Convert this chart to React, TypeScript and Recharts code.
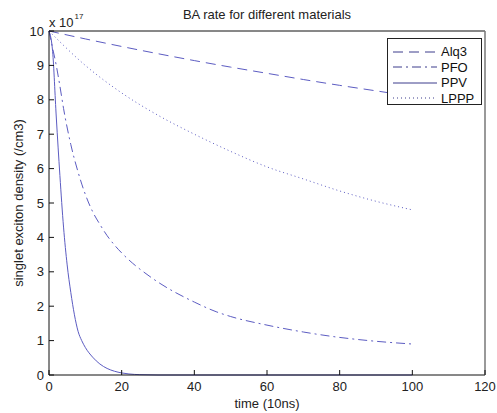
import React from 'react';
import { LineChart, Line, XAxis, YAxis, Legend } from 'recharts';

const xTicks = [0, 20, 40, 60, 80, 100, 120];
const yTicks = [0, 1, 2, 3, 4, 5, 6, 7, 8, 9, 10];

const seriesNames = ['Alq3', 'PFO', 'PPV', 'LPPP'];
const seriesDash = ['10 6', '9 4 2 4', '', '1 3'];

const alq3T = [0, 10, 20, 30, 40, 50, 60, 70, 80, 90, 100];
const alq3Y = [10, 9.77, 9.55, 9.34, 9.14, 8.95, 8.77, 8.59, 8.42, 8.26, 8.1];

const pfoT = [0, 1, 2, 3, 4, 6, 8, 10, 12, 14, 16, 18, 20, 23, 25, 30, 40, 46, 50, 60, 70, 78, 88, 100];
const pfoY = [10, 9.5, 9.0, 8.4, 7.75, 6.7, 5.9, 5.25, 4.75, 4.38, 4.05, 3.78, 3.55, 3.25, 3.08, 2.7, 2.12, 1.84, 1.7, 1.45, 1.25, 1.12, 1.0, 0.9];

const ppvT = [0, 1, 2, 3, 4, 5, 6, 7, 8, 9, 10, 12, 14, 16, 18, 20, 22, 25, 30, 40, 60, 80, 100];
const ppvY = [10, 9.4, 7.5, 5.8, 4.3, 3.2, 2.4, 1.75, 1.27, 1.0, 0.8, 0.52, 0.32, 0.19, 0.11, 0.06, 0.03, 0.01, 0, 0, 0, 0, 0];

const lpppT = [0, 10, 20, 30, 40, 50, 60, 70, 80, 90, 100];
const lpppY = [10, 9.0, 8.2, 7.55, 7.0, 6.5, 6.05, 5.7, 5.35, 5.05, 4.8];

const toPoints = (t: number[], y: number[]) => t.map((v, i) => ({ t: v, y: y[i] }));

const series = [
  toPoints(alq3T, alq3Y),
  toPoints(pfoT, pfoY),
  toPoints(ppvT, ppvY),
  toPoints(lpppT, lpppY),
];

const lineColor = '#5c5cc2';
const font = 'Arial, "Liberation Sans", Helvetica, sans-serif';
const TICK = 5;

// MATLAB-style inward tick marks, drawn next to the labels
const BottomTick = (props: any) => {
  const { x, y, payload } = props;
  return (
    <g>
      <line x1={x} y1={y - 12} x2={x} y2={y - 12 + TICK} stroke="#111" />
      <text x={x} y={y} dy="0.71em" textAnchor="middle" fontSize={13} fontFamily={font} fill="#222">
        {payload.value}
      </text>
    </g>
  );
};

const LeftTick = (props: any) => {
  const { x, y, payload } = props;
  return (
    <g>
      <line x1={x + 10 - TICK} y1={y} x2={x + 10} y2={y} stroke="#111" />
      <text x={x} y={y} dy="0.355em" textAnchor="end" fontSize={13} fontFamily={font} fill="#222">
        {payload.value}
      </text>
    </g>
  );
};

const TopTick = (props: any) => {
  const { x, y } = props;
  return <line x1={x} y1={y - TICK} x2={x} y2={y} stroke="#111" />;
};

const RightTick = (props: any) => {
  const { x, y } = props;
  return <line x1={x} y1={y} x2={x + TICK} y2={y} stroke="#111" />;
};

const renderLegend = () => (
  <div
    style={{
      border: '1px solid #222',
      background: '#fff',
      width: 95,
      height: 67,
      boxSizing: 'border-box',
      padding: '5px 0 0 5px',
      fontFamily: font,
      fontSize: 13,
      color: '#111',
      textAlign: 'left',
    }}
  >
    {seriesNames.map((name, i) => (
      <div key={name} style={{ display: 'flex', alignItems: 'center', height: 15.5 }}>
        <svg width={44} height={6}>
          <line x1={0} y1={3} x2={44} y2={3} stroke="#3c3c8c" strokeWidth={1} strokeDasharray={seriesDash[i] || undefined} />
        </svg>
        <span style={{ marginLeft: 4 }}>{name}</span>
      </div>
    ))}
  </div>
);

const App: React.FC = () => {
  return (
    <div style={{ position: 'absolute', left: 0, top: 0, width: 497, height: 413, background: '#fff' }}>
      <LineChart width={497} height={413} margin={{ top: 30, right: 11, left: 19, bottom: 8 }}>
        <XAxis
          dataKey="t"
          type="number"
          domain={[0, 120]}
          ticks={xTicks}
          interval={0}
          stroke="#111"
          tickLine={false}
          tickSize={-TICK}
          tickMargin={12}
          height={30}
          tick={<BottomTick />}
          label={{ value: 'time (10ns)', position: 'insideBottom', offset: -3, fill: '#222', fontSize: 13, fontFamily: font }}
        />
        <XAxis
          xAxisId="top"
          orientation="top"
          type="number"
          domain={[0, 120]}
          ticks={xTicks}
          interval={0}
          stroke="#111"
          tickLine={false}
          tickSize={-TICK}
          tickMargin={0}
          height={1}
          tick={<TopTick />}
        />
        <YAxis
          type="number"
          domain={[0, 10]}
          ticks={yTicks}
          interval={0}
          stroke="#111"
          tickLine={false}
          tickSize={-TICK}
          tickMargin={10}
          width={30}
          tick={<LeftTick />}
          label={{ value: 'singlet exciton density (/cm3)', angle: -90, position: 'insideLeft', offset: -1, fill: '#222', fontSize: 13, fontFamily: font, style: { textAnchor: 'middle' } }}
        />
        <YAxis
          yAxisId="right"
          orientation="right"
          type="number"
          domain={[0, 10]}
          ticks={yTicks}
          interval={0}
          stroke="#777"
          strokeWidth={1.5}
          tickLine={false}
          tickSize={-TICK}
          tickMargin={0}
          width={1}
          tick={<RightTick />}
        />
        <Legend layout="horizontal" verticalAlign="middle" align="center" content={renderLegend} wrapperStyle={{ top: 38, left: 387, width: 95 }} />
        {seriesNames.map((name, i) => (
          <Line
            key={name}
            name={name}
            data={series[i]}
            dataKey="y"
            type="monotone"
            stroke={lineColor}
            strokeWidth={1}
            strokeDasharray={seriesDash[i] || undefined}
            dot={false}
            isAnimationActive={false}
          />
        ))}
        <text x={267} y={19} textAnchor="middle" fontSize={13} fontFamily={font} fill="#222">
          BA rate for different materials
        </text>
        <text x={49} y={27} fontSize={13} fontFamily={font} fill="#222">
          x 10
          <tspan dx={1} dy={-8} fontSize={8}>17</tspan>
        </text>
      </LineChart>
    </div>
  );
};

export default App;
